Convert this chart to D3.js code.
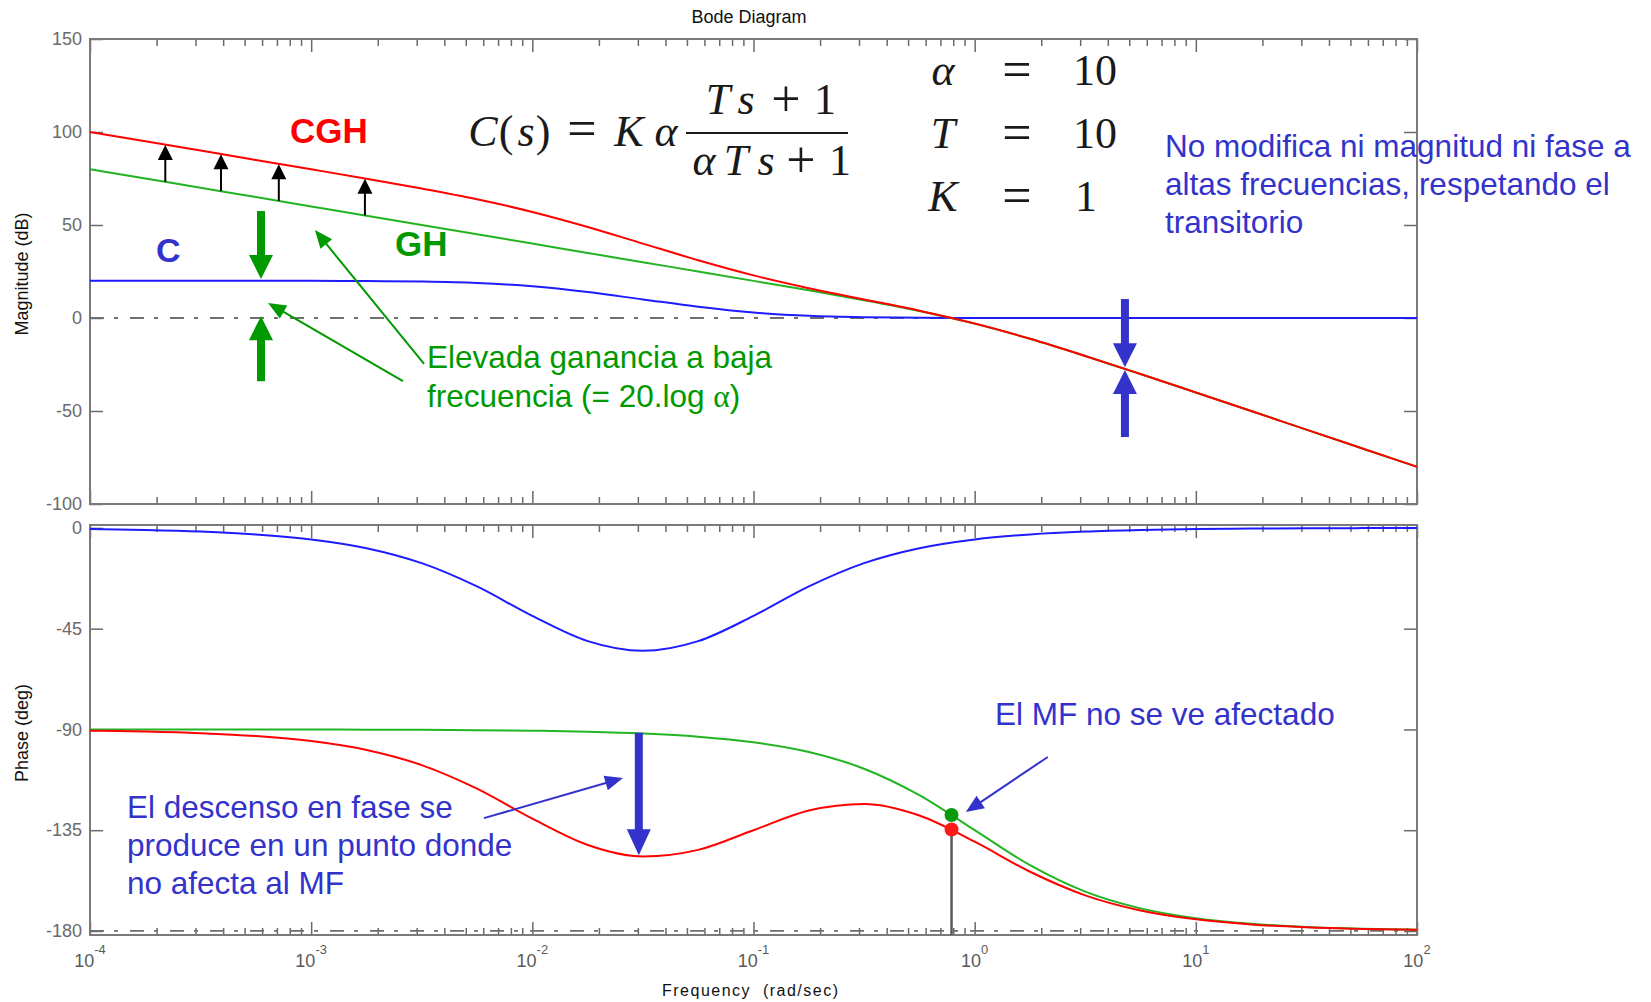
<!DOCTYPE html>
<html>
<head>
<meta charset="utf-8">
<script src="https://cdn.jsdelivr.net/npm/d3@7"></script>
<style>
  body { margin: 0; background: #fff; }
  svg { display: block; font-family: "Liberation Sans", Arial, sans-serif; }
</style>
</head>
<body>
<div id="chart"></div>
<script>
var freqs = [1e-4, 1.78e-4, 3.16e-4, 5.62e-4, 1e-3, 1.78e-3, 3.16e-3, 5.62e-3, 1e-2, 1.78e-2, 3.16e-2, 5.62e-2,
             0.1, 0.178, 0.316, 0.562, 1, 1.78, 3.16, 5.62, 10, 17.8, 31.6, 56.2, 100]

// magnitude (dB)
var magC   = [20, 20, 20, 19.99, 19.96, 19.87, 19.59, 18.82, 17.03, 13.94, 10.0, 6.06,
              2.97, 1.18, 0.41, 0.13, 0.04, 0.01, 0, 0, 0, 0, 0, 0, 0]
var magGH  = [80, 75, 70, 65, 60, 55, 50, 45, 40, 35, 30, 24.99,
              19.96, 14.86, 9.59, 3.81, -3.01, -11.19, -20.41, -30.14, -40.04, -50.01, -60, -70, -80]
var magCGH = [100, 95, 90, 84.99, 79.96, 74.87, 69.59, 63.82, 57.03, 48.94, 40.0, 31.05,
              22.93, 16.04, 10.0, 3.94, -2.97, -11.18, -20.41, -30.14, -40.04, -50.01, -60, -70, -80]

// phase (deg)
var phC   = [-0.52, -0.92, -1.63, -2.9, -5.14, -9.06, -15.74, -26.13, -39.29, -50.57, -54.9, -50.57,
             -39.29, -26.13, -15.74, -9.06, -5.14, -2.9, -1.63, -0.92, -0.52, -0.29, -0.16, -0.09, -0.05]
var phGH  = [-90.01, -90.01, -90.02, -90.03, -90.06, -90.1, -90.18, -90.32, -90.57, -91.02, -91.81, -93.22,
             -95.71, -100.08, -107.55, -119.35, -135, -150.65, -162.45, -169.92, -174.29, -176.78, -178.19, -178.98, -179.43]
var phCGH = [-90.53, -90.93, -91.65, -92.93, -95.2, -99.16, -105.92, -116.45, -129.86, -141.59, -146.71, -143.79,
             -135, -126.21, -123.29, -128.41, -140.14, -153.55, -164.08, -170.84, -174.81, -177.07, -178.35, -179.07, -179.48]

var magTicks = [150, 100, 50, 0, -50, -100]
var phaseTicks = [0, -45, -90, -135, -180]
var decades = [-4, -3, -2, -1, 0, 1, 2]

// annotation marks, in data units
var gainArrows = [
  { w: 2.19e-4, from: 73.2, to: 93.0 },
  { w: 3.91e-4, from: 68.2, to: 88.0 },
  { w: 7.14e-4, from: 62.9, to: 82.7 },
  { w: 1.75e-3, from: 55.1, to: 74.8 }
]
var lowFreqArrows = [ { w: 5.93e-4, from: 57.5, to: 21 }, { w: 5.93e-4, from: -34, to: 1 } ]
var highFreqArrows = [ { w: 4.78, from: 10.2, to: -26.5 }, { w: 4.78, from: -64, to: -28 } ]
var phaseDropArrow = { w: 0.0303, from: -91.5, to: -146.2 }
var magPointers = [
  { w1: 2.6e-3, v1: -33.9, w2: 6.38e-4, v2: 8.1 },
  { w1: 3.24e-3, v1: -24.7, w2: 1.04e-3, v2: 47.3 }
]
var phasePointers = [
  { w1: 2.14, v1: -102.3, w2: 0.912, v2: -126.9 },
  { w1: 6.04e-3, v1: -129.6, w2: 0.0257, v2: -111.7 }
]
var mfFreq = 0.786, mfPhaseGH = -128.2, mfPhaseCGH = -134.7

var params = [ { sym: "α", val: "10" }, { sym: "T", val: "10" }, { sym: "K", val: "1" } ]

var RED = "#ff0000", GREEN = "#22b422", BLUE = "#1c1cff"
var NBLUE = "#3333cc", NGREEN = "#009900"

var W = 1651, H = 1002
var left = 90, right = 1417
var magTop = 39, magBot = 504
var phTop = 525, phBot = 935

var svg = d3.select("#chart").append("svg").attr("width", W).attr("height", H)

var x = d3.scaleLog().domain([1e-4, 1e2]).range([left, right])
var yMag = d3.scaleLinear().domain([-100, 150]).range([magBot, magTop])
var yPh = d3.scaleLinear().domain([-181.8, 1.3]).range([phBot, phTop])

var majors = decades.map(function (e) { return Math.pow(10, e) })
var minors = x.ticks().filter(function (t) {
  return Math.abs(Math.log10(t) - Math.round(Math.log10(t))) > 1e-6
})

// plain hyphen for negatives, like the original
var plain = function (d) { return String(d) }

function styleAxis(g) {
  g.select(".domain").remove()
  g.attr("font-size", 18).attr("font-family", "Liberation Sans, Arial, sans-serif")
  g.selectAll(".tick line").attr("stroke-width", 1.5)
}

function drawFrame(y, top, bot, yTicks, clipId) {
  var g = svg.append("g").attr("color", "#6a6a6a")

  g.append("g").attr("transform", "translate(" + left + ",0)")
    .call(d3.axisLeft(y).tickValues(yTicks).tickSizeInner(-13).tickSizeOuter(0).tickPadding(8).tickFormat(plain))
    .call(styleAxis)
  g.append("g").attr("transform", "translate(" + right + ",0)")
    .call(d3.axisRight(y).tickValues(yTicks).tickSizeInner(-13).tickSizeOuter(0).tickFormat(""))
    .call(styleAxis)

  ;[[top, d3.axisTop], [bot, d3.axisBottom]].forEach(function (p) {
    g.append("g").attr("transform", "translate(0," + p[0] + ")")
      .call(p[1](x).tickValues(majors).tickSizeInner(-13).tickSizeOuter(0).tickFormat(""))
      .call(styleAxis)
    g.append("g").attr("transform", "translate(0," + p[0] + ")")
      .call(p[1](x).tickValues(minors).tickSizeInner(-7).tickSizeOuter(0).tickFormat(""))
      .call(styleAxis)
  })

  g.append("rect")
    .attr("x", left).attr("y", top)
    .attr("width", right - left).attr("height", bot - top)
    .attr("fill", "none").attr("stroke", "#7a7a7a").attr("stroke-width", 2)

  svg.append("clipPath").attr("id", clipId).append("rect")
    .attr("x", left).attr("y", top).attr("width", right - left).attr("height", bot - top)
}

drawFrame(yMag, magTop, magBot, magTicks, "clipMag")
drawFrame(yPh, phTop, phBot, phaseTicks, "clipPh")

// x tick labels 10^n under the phase plot
svg.append("g").selectAll("text").data(decades).enter().append("text")
  .attr("x", function (d) { return x(Math.pow(10, d)) })
  .attr("y", 967)
  .attr("text-anchor", "middle")
  .attr("font-size", 18)
  .attr("fill", "#5a5a5a")
  .each(function (d) {
    var t = d3.select(this)
    t.append("tspan").text("10")
    t.append("tspan").attr("dy", -13).attr("font-size", 13).text(String(d))
  })

// reference dash-dot lines
svg.append("line")
  .attr("x1", left).attr("x2", right).attr("y1", yMag(0)).attr("y2", yMag(0))
  .attr("stroke", "#707070").attr("stroke-width", 1.8).attr("stroke-dasharray", "14,10,4,12")
svg.append("line")
  .attr("x1", left).attr("x2", right).attr("y1", yPh(-180)).attr("y2", yPh(-180))
  .attr("stroke", "#707070").attr("stroke-width", 1.8).attr("stroke-dasharray", "14,10,4,12")

function drawCurve(y, values, color, clipId) {
  var line = d3.line()
    .x(function (d, i) { return x(freqs[i]) })
    .y(function (d) { return y(d) })
    .curve(d3.curveMonotoneX)
  svg.append("path").datum(values)
    .attr("clip-path", "url(#" + clipId + ")")
    .attr("d", line)
    .attr("fill", "none")
    .attr("stroke", color)
    .attr("stroke-width", 2)
}

drawCurve(yMag, magC, BLUE, "clipMag")
drawCurve(yMag, magGH, GREEN, "clipMag")
drawCurve(yMag, magCGH, RED, "clipMag")
drawCurve(yPh, phC, BLUE, "clipPh")
drawCurve(yPh, phGH, GREEN, "clipPh")
drawCurve(yPh, phCGH, RED, "clipPh")

function arrow(x1, y1, x2, y2, o) {
  var dx = x2 - x1, dy = y2 - y1, len = Math.sqrt(dx * dx + dy * dy)
  var ux = dx / len, uy = dy / len, px = -uy, py = ux
  var bx = x2 - ux * o.headL, by = y2 - uy * o.headL
  svg.append("line")
    .attr("x1", x1).attr("y1", y1).attr("x2", bx + ux).attr("y2", by + uy)
    .attr("stroke", o.color).attr("stroke-width", o.shaft)
  svg.append("path")
    .attr("d", "M" + x2 + "," + y2 +
      "L" + (bx + px * o.headW / 2) + "," + (by + py * o.headW / 2) +
      "L" + (bx - px * o.headW / 2) + "," + (by - py * o.headW / 2) + "Z")
    .attr("fill", o.color)
}

var thin = { shaft: 2, headW: 15, headL: 15 }
var thick = { shaft: 8, headW: 24, headL: 24 }
var pointer = { shaft: 2, headW: 15, headL: 18 }

gainArrows.forEach(function (a) {
  arrow(x(a.w), yMag(a.from), x(a.w), yMag(a.to), Object.assign({ color: "#000" }, thin))
})
lowFreqArrows.forEach(function (a) {
  arrow(x(a.w), yMag(a.from), x(a.w), yMag(a.to), Object.assign({ color: NGREEN }, thick))
})
highFreqArrows.forEach(function (a) {
  arrow(x(a.w), yMag(a.from), x(a.w), yMag(a.to), Object.assign({ color: NBLUE }, thick))
})
arrow(x(phaseDropArrow.w), yPh(phaseDropArrow.from), x(phaseDropArrow.w), yPh(phaseDropArrow.to),
  Object.assign({ color: NBLUE }, thick, { headL: 26 }))
magPointers.forEach(function (a) {
  arrow(x(a.w1), yMag(a.v1), x(a.w2), yMag(a.v2), Object.assign({ color: NGREEN }, pointer))
})
phasePointers.forEach(function (a) {
  arrow(x(a.w1), yPh(a.v1), x(a.w2), yPh(a.v2), Object.assign({ color: NBLUE }, pointer))
})

// phase margin marker
svg.append("line")
  .attr("x1", x(mfFreq)).attr("x2", x(mfFreq))
  .attr("y1", yPh(mfPhaseCGH)).attr("y2", phBot)
  .attr("stroke", "#5a5a5a").attr("stroke-width", 2.5)
svg.append("circle").attr("cx", x(mfFreq)).attr("cy", yPh(mfPhaseGH)).attr("r", 7).attr("fill", "#0a990a")
svg.append("circle").attr("cx", x(mfFreq)).attr("cy", yPh(mfPhaseCGH)).attr("r", 7).attr("fill", "#ff1a1a")

// titles
svg.append("text").attr("x", 749).attr("y", 23).attr("text-anchor", "middle")
  .attr("font-size", 18).attr("fill", "#111").text("Bode Diagram")
svg.append("text").attr("transform", "translate(28,274) rotate(-90)").attr("text-anchor", "middle")
  .attr("font-size", 18).attr("fill", "#111").text("Magnitude (dB)")
svg.append("text").attr("transform", "translate(28,733) rotate(-90)").attr("text-anchor", "middle")
  .attr("font-size", 18).attr("fill", "#111").text("Phase (deg)")
svg.append("text").attr("x", 750).attr("y", 996).attr("text-anchor", "middle")
  .attr("font-size", 16).attr("fill", "#111")
  .attr("textLength", 176).attr("lengthAdjust", "spacing")
  .style("white-space", "pre")
  .text("Frequency  (rad/sec)")

// curve labels
svg.append("text").attr("x", 290).attr("y", 143).attr("font-size", 35).attr("font-weight", "bold")
  .attr("fill", RED).text("CGH")
svg.append("text").attr("x", 395).attr("y", 256).attr("font-size", 35).attr("font-weight", "bold")
  .attr("fill", NGREEN).text("GH")
svg.append("text").attr("x", 156).attr("y", 262).attr("font-size", 34).attr("font-weight", "bold")
  .attr("fill", NBLUE).text("C")

function note(lines, x0, y0, dy, color) {
  var t = svg.append("text").attr("font-size", 31.5).attr("fill", color)
  lines.forEach(function (l, i) {
    t.append("tspan").attr("x", x0).attr("y", y0 + i * dy).text(l)
  })
  return t
}

var elev = note(["Elevada ganancia a baja", "frecuencia (= 20.log "], 427, 368, 39, NGREEN)
elev.append("tspan").attr("font-family", "Liberation Serif, serif").text("α")
elev.append("tspan").text(")")

note(["No modifica ni magnitud ni fase a", "altas frecuencias, respetando el", "transitorio"], 1165, 157, 38, NBLUE)
note(["El MF no se ve afectado"], 995, 725, 38, NBLUE)
note(["El descenso en fase se", "produce en un punto donde", "no afecta al MF"], 127, 818, 38, NBLUE)

// controller formula
var fx = svg.append("g").attr("fill", "#1a1a1a").attr("font-family", "Liberation Serif, serif").attr("font-size", 44)
function tok(s, cx, by, it, size) {
  fx.append("text").attr("x", cx).attr("y", by).attr("text-anchor", "middle")
    .attr("font-size", size || 44)
    .attr("font-style", it ? "italic" : "normal").text(s)
}
tok("C", 483, 146, true); tok("(", 506, 146); tok("s", 526, 146, true); tok(")", 543, 146)
tok("=", 582, 146, false, 52); tok("K", 629, 146, true); tok("α", 666, 146, true)
tok("T", 718, 114, true); tok("s", 746, 114, true); tok("+", 786, 116, false, 52); tok("1", 825, 114)
tok("α", 704, 175, true); tok("T", 736, 175, true); tok("s", 766, 175, true); tok("+", 801, 177, false, 52); tok("1", 840, 175)
fx.append("line").attr("x1", 686).attr("x2", 848).attr("y1", 133).attr("y2", 133)
  .attr("stroke", "#1a1a1a").attr("stroke-width", 2)
params.forEach(function (p, i) {
  var by = 85 + i * 63
  tok(p.sym, 943, by, true)
  tok("=", 1017, by + 2, false, 52)
  tok(p.val, p.val.length > 1 ? 1095 : 1086, by)
})
</script>
</body>
</html>
